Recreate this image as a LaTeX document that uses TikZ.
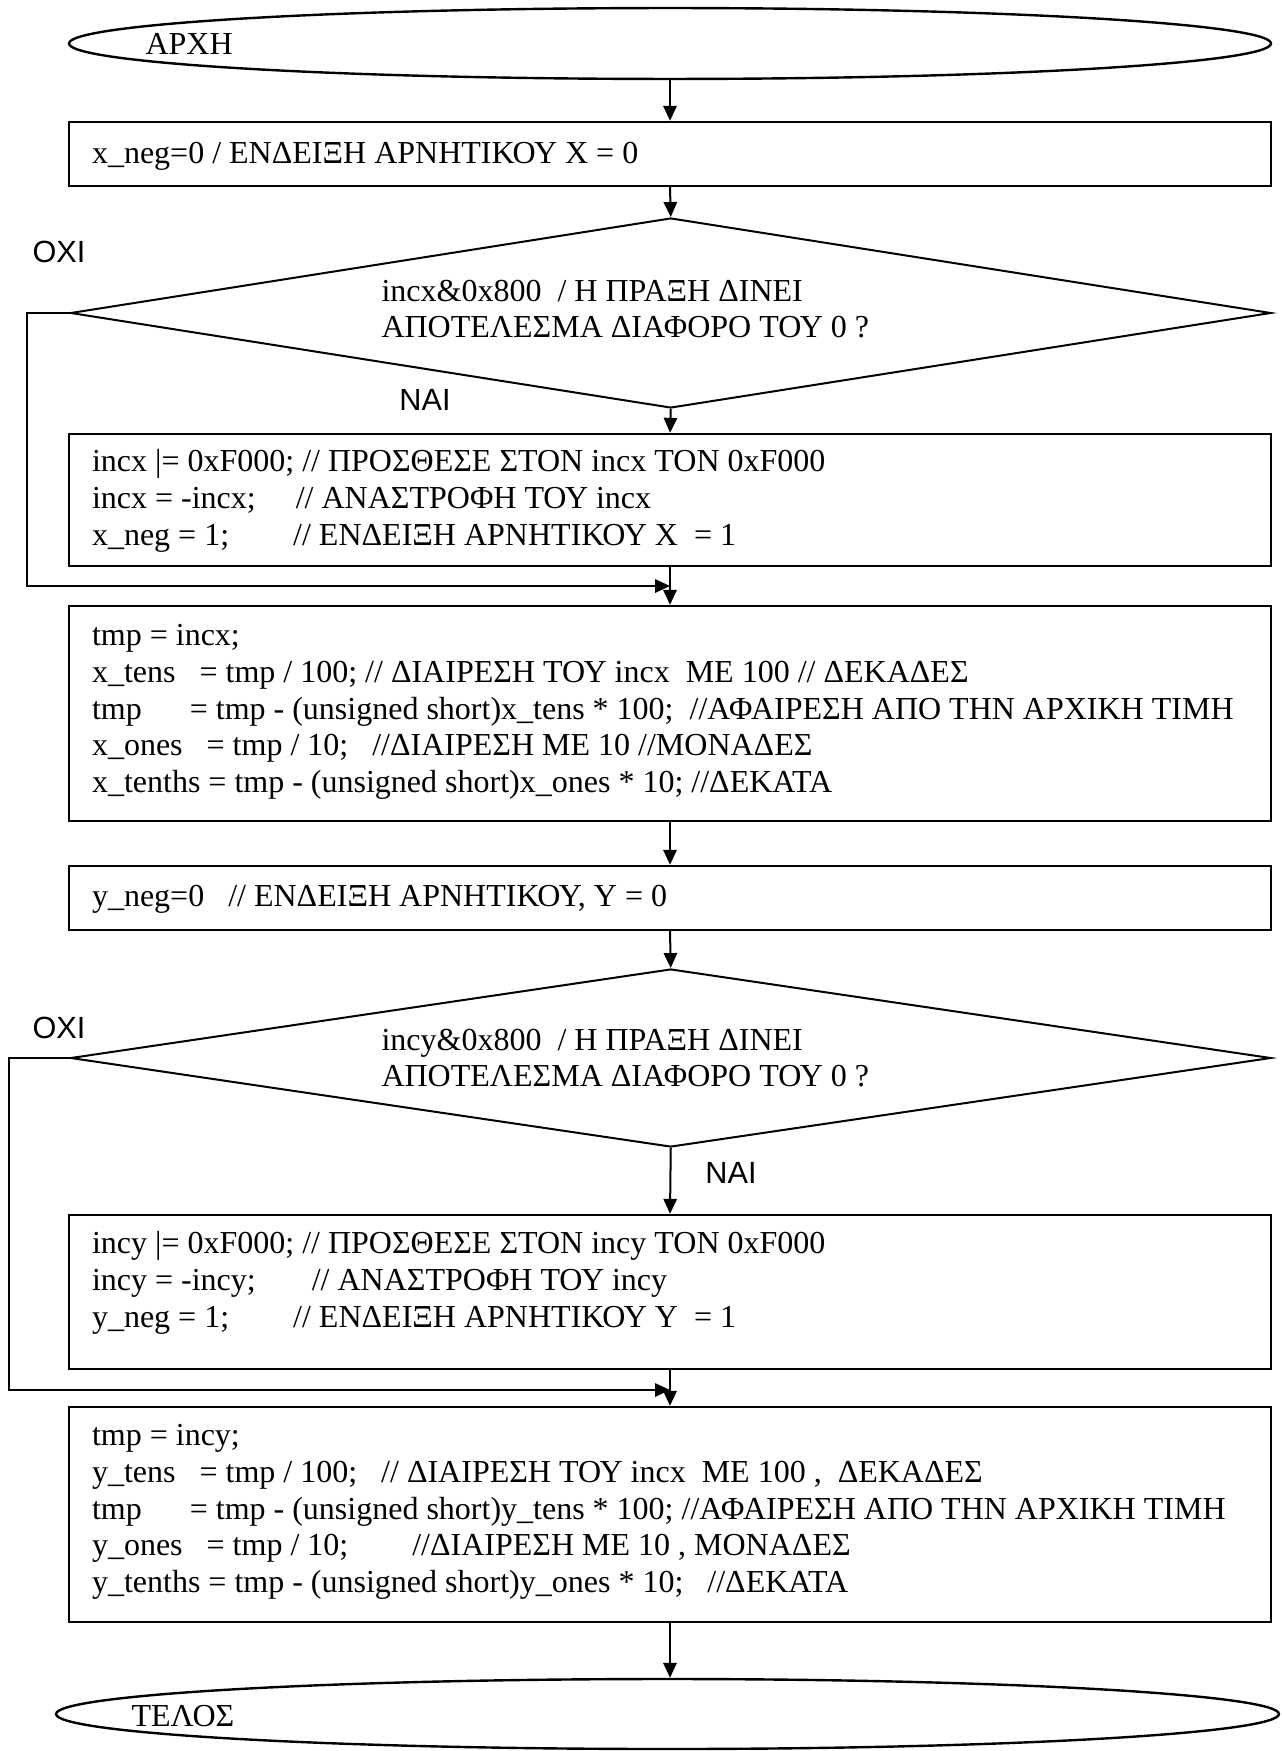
\documentclass[tikz,border=0pt]{standalone}
\usepackage{fontspec}
\setmainfont{Liberation Serif}
\newfontfamily\sansgr{Liberation Sans}
\usetikzlibrary{shapes.geometric,arrows.meta}

\tikzset{
    terminal/.style={draw,ellipse,line width=0.9pt,inner sep=0pt},
    procbox/.style={draw,rectangle,line width=0.9pt,minimum width=450.75pt,inner sep=0pt},
    decision/.style={draw,diamond,line width=0.75pt,minimum width=450.2pt,inner sep=0pt},
    codetxt/.style={inner sep=0pt,anchor=west,align=left,font=\fontsize{12pt}{13.8pt}\selectfont},
    answer/.style={inner sep=0pt,font=\sansgr\fontsize{11.5pt}{13pt}\selectfont},
    flow/.style={line width=0.75pt,-{Triangle[length=5.6pt,width=5pt]}}
}

\begin{document}
\begin{tikzpicture}[x=0.375pt,y=-0.375pt]
        \useasboundingbox (0,0) rectangle (1281,1751);

        % ΑΡΧΗ
        \node[terminal,minimum width=450.75pt,minimum height=26.6pt] (start) at (670,43.5) {};
        \node[codetxt] (starttxt) at (145,44) {ΑΡΧΗ};

        % x_neg = 0
        \node[procbox,minimum height=24pt] (b1) at (670,154) {};
        \node[codetxt] (t1) at (91.5,156) {x\_neg=0 / ΕΝΔΕΙΞΗ ΑΡΝΗΤΙΚΟΥ X = 0};

        % έλεγχος incx
        \node[decision,minimum height=71.25pt] (q1) at (670.75,313) {};
        \node[codetxt] (q1txt) at (381,309) {incx\&0x800\ \ / Η ΠΡΑΞΗ ΔΙΝΕΙ\\ΑΠΟΤΕΛΕΣΜΑ ΔΙΑΦΟΡΟ ΤΟΥ 0 ?};
        \node[answer] (no1) at (59,252) {ΟΧΙ};
        \node[answer] (yes1) at (425,400) {ΝΑΙ};

        % αρνητικό x
        \node[procbox,minimum height=49.5pt] (b2) at (670,500) {};
        \node[codetxt] (t2) at (91.5,501) {incx |= 0xF000; // ΠΡΟΣΘΕΣΕ ΣΤΟΝ incx ΤΟΝ 0xF000\\
            incx = -incx;\ \ \ \ \ // ΑΝΑΣΤΡΟΦΗ ΤΟΥ incx\\
            x\_neg = 1;\ \ \ \ \ \ \ \ // ΕΝΔΕΙΞΗ ΑΡΝΗΤΙΚΟΥ X\ \ = 1};
        \coordinate (j1) at (670,586);

        % ψηφία x
        \node[procbox,minimum height=80.6pt] (b3) at (670,713.5) {};
        \node[codetxt] (t3) at (91.5,712) {tmp = incx;\\
            x\_tens\ \ \ = tmp / 100; // ΔΙΑΙΡΕΣΗ ΤΟΥ incx\ \ ΜΕ 100 // ΔΕΚΑΔΕΣ\\
            tmp\ \ \ \ \ \ = tmp - (unsigned short)x\_tens * 100;\ \ //ΑΦΑΙΡΕΣΗ ΑΠΟ ΤΗΝ ΑΡΧΙΚΗ ΤΙΜΗ\\
            x\_ones\ \ \ = tmp / 10;\ \ \ //ΔΙΑΙΡΕΣΗ ΜΕ 10 //ΜΟΝΑΔΕΣ\\
            x\_tenths = tmp - (unsigned short)x\_ones * 10; //ΔΕΚΑΤΑ};

        % y_neg = 0
        \node[procbox,minimum height=24pt] (b4) at (670,898) {};
        \node[codetxt] (t4) at (91.5,899) {y\_neg=0\ \ \ // ΕΝΔΕΙΞΗ ΑΡΝΗΤΙΚΟΥ, Y = 0};

        % έλεγχος incy
        \node[decision,minimum height=66.75pt] (q2) at (670.75,1058) {};
        \node[codetxt] (q2txt) at (381,1058) {incy\&0x800\ \ / Η ΠΡΑΞΗ ΔΙΝΕΙ\\ΑΠΟΤΕΛΕΣΜΑ ΔΙΑΦΟΡΟ ΤΟΥ 0 ?};
        \node[answer] (no2) at (59,1028) {ΟΧΙ};
        \node[answer] (yes2) at (731,1173) {ΝΑΙ};

        % αρνητικό y
        \node[procbox,minimum height=57.75pt] (b5) at (670,1292) {};
        \node[codetxt] (t5) at (91.5,1283) {incy |= 0xF000; // ΠΡΟΣΘΕΣΕ ΣΤΟΝ incy ΤΟΝ 0xF000\\
            incy = -incy;\ \ \ \ \ \ \ // ΑΝΑΣΤΡΟΦΗ ΤΟΥ incy\\
            y\_neg = 1;\ \ \ \ \ \ \ \ // ΕΝΔΕΙΞΗ ΑΡΝΗΤΙΚΟΥ Y\ \ = 1};
        \coordinate (j2) at (670,1390);

        % ψηφία y
        \node[procbox,minimum height=80.6pt] (b6) at (670,1514.5) {};
        \node[codetxt] (t6) at (91.5,1512) {tmp = incy;\\
            y\_tens\ \ \ = tmp / 100;\ \ \ // ΔΙΑΙΡΕΣΗ ΤΟΥ incx\ \ ΜΕ 100 ,\ \ ΔΕΚΑΔΕΣ\\
            tmp\ \ \ \ \ \ = tmp - (unsigned short)y\_tens * 100; //ΑΦΑΙΡΕΣΗ ΑΠΟ ΤΗΝ ΑΡΧΙΚΗ ΤΙΜΗ\\
            y\_ones\ \ \ = tmp / 10;\ \ \ \ \ \ \ \ //ΔΙΑΙΡΕΣΗ ΜΕ 10 , ΜΟΝΑΔΕΣ\\
            y\_tenths = tmp - (unsigned short)y\_ones * 10;\ \ \ //ΔΕΚΑΤΑ};

        % ΤΕΛΟΣ
        \node[terminal,minimum width=458.6pt,minimum height=26.25pt] (end) at (667.5,1714) {};
        \node[codetxt] (endtxt) at (131,1716) {ΤΕΛΟΣ};

        % ροή
        \draw[flow] (start.south) -- (b1.north);
        \draw[flow] (b1.south) -- (q1.north);
        \draw[flow] (q1.south) -- (b2.north);
        \draw[flow] (b2.south) -- (b3.north);
        \draw[flow] (q1.west) -- ++(-42.5,0) |- (j1);
        \draw[flow] (b3.south) -- (b4.north);
        \draw[flow] (b4.south) -- (q2.north);
        \draw[flow] (q2.south) -- (b5.north);
        \draw[flow] (b5.south) -- (b6.north);
        \draw[flow] (q2.west) -- ++(-60.5,0) |- (j2);
        \draw[flow] (b6.south) -- (b6.south |- end.north);

    \end{tikzpicture}
\end{document}
